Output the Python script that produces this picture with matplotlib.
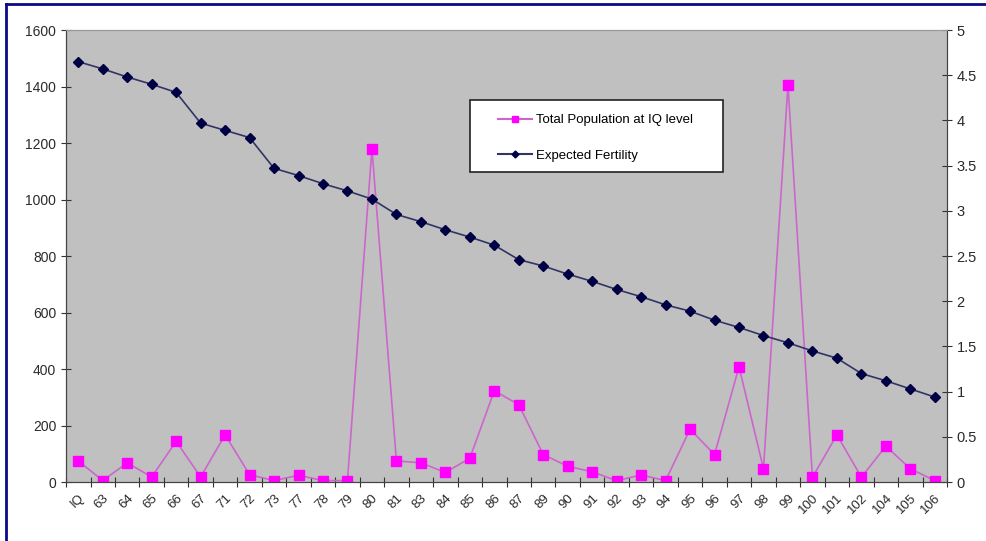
import matplotlib.pyplot as plt
import numpy as np
from matplotlib.lines import Line2D
from matplotlib.patches import Rectangle

plt.rcParams["font.family"] = ["Liberation Sans", "DejaVu Sans"]

categories = ["IQ", "63", "64", "65", "66", "67", "71", "72", "73", "77", "78",
              "79", "80", "81", "83", "84", "85", "86", "87", "89", "90", "91",
              "92", "93", "94", "95", "96", "97", "98", "99", "100", "101",
              "102", "104", "105", "106"]
population = [75, 5, 68, 18, 144, 18, 167, 26, 5, 24, 5,
              5, 1180, 75, 68, 34, 84, 323, 274, 97, 56, 36,
              5, 25, 5, 187, 97, 408, 47, 1406, 17, 167,
              17, 127, 47, 5]
fertility = [4.65, 4.57, 4.48, 4.40, 4.31, 3.97, 3.89, 3.81, 3.47, 3.39, 3.30,
             3.22, 3.13, 2.96, 2.88, 2.79, 2.71, 2.62, 2.46, 2.39, 2.30, 2.22,
             2.13, 2.05, 1.96, 1.89, 1.79, 1.71, 1.62, 1.54, 1.45, 1.37,
             1.20, 1.12, 1.03, 0.94]

x = np.arange(len(categories))

fig = plt.figure(figsize=(9.87, 5.41), dpi=100)
fig.patch.set_facecolor("white")
ax = fig.add_axes([0.0669, 0.109, 0.8926, 0.8355])
ax.set_facecolor("#c0c0c0")
ax2 = ax.twinx()
ax2.patch.set_visible(False)

ax.plot(x, population, color="#cc66cc", linewidth=1.2, marker="s",
        markersize=6.5, markerfacecolor="#ff00ff", markeredgecolor="#ff00ff",
        zorder=3)
ax2.plot(x, fertility, color="#333366", linewidth=1.2, marker="D",
         markersize=5, markerfacecolor="#000044", markeredgecolor="#000044")

ax.set_xlim(-0.5, len(categories) - 0.5)
ax.set_ylim(0, 1600)
ax2.set_ylim(0, 5)
ax.set_yticks(np.arange(0, 1601, 200))
ax2.set_yticks(np.arange(0, 5.01, 0.5))
ax2.set_yticklabels(["0", "0.5", "1", "1.5", "2", "2.5", "3", "3.5", "4",
                     "4.5", "5"])

ax.set_xticks(np.arange(len(categories) + 1) - 0.5)
ax.set_xticklabels([])
ax.set_xticks(x, minor=True)
ax.set_xticklabels(categories, minor=True, rotation=45, ha="right",
                   rotation_mode="anchor", fontsize=9.5, color="#2a2a2a")
ax.tick_params(axis="x", which="major", direction="inout", length=7,
               color="#333333")
ax.tick_params(axis="x", which="minor", length=0, pad=7)
ax.tick_params(axis="y", direction="inout", length=7, color="#333333",
               labelsize=10, labelcolor="#2a2a2a")
ax2.tick_params(axis="y", direction="inout", length=7, color="#333333",
                labelsize=10.5, labelcolor="#2a2a2a")

for a in (ax, ax2):
    for side in ("left", "right", "bottom"):
        a.spines[side].set_color("#444444")
    a.spines["top"].set_color("#999999")

# legend box drawn by hand, legend entries placed inside it
fig.add_artist(Rectangle((470 / 987, 1 - 172 / 541), 253 / 987, 72 / 541,
                         transform=fig.transFigure, facecolor="white",
                         edgecolor="#222222", linewidth=1.2, zorder=5))
handles = [
    Line2D([], [], color="#cc66cc", marker="s", markersize=4.5,
           markerfacecolor="#ff00ff", markeredgecolor="#ff00ff"),
    Line2D([], [], color="#333366", marker="D", markersize=3.5,
           markerfacecolor="#000044", markeredgecolor="#000044"),
]
leg = fig.legend(handles, ["Total Population at IQ level", "Expected Fertility"],
                 loc="upper left", bbox_to_anchor=(498 / 987, 1 - 114 / 541),
                 fontsize=9.5, frameon=False, borderpad=0, labelspacing=1.75,
                 handlelength=2.6, handletextpad=0.25, borderaxespad=0)
leg.set_zorder(6)

# navy frame around the chart (top and left edges visible)
fig.add_artist(Line2D([6 / 987, 1.0], [1 - 4 / 541, 1 - 4 / 541],
                      transform=fig.transFigure, color="#0a0a8a",
                      linewidth=2))
fig.add_artist(Line2D([6 / 987, 6 / 987], [0.0, 1 - 4 / 541],
                      transform=fig.transFigure, color="#0a0a8a",
                      linewidth=2))

fig.savefig("out.png", dpi=100)
